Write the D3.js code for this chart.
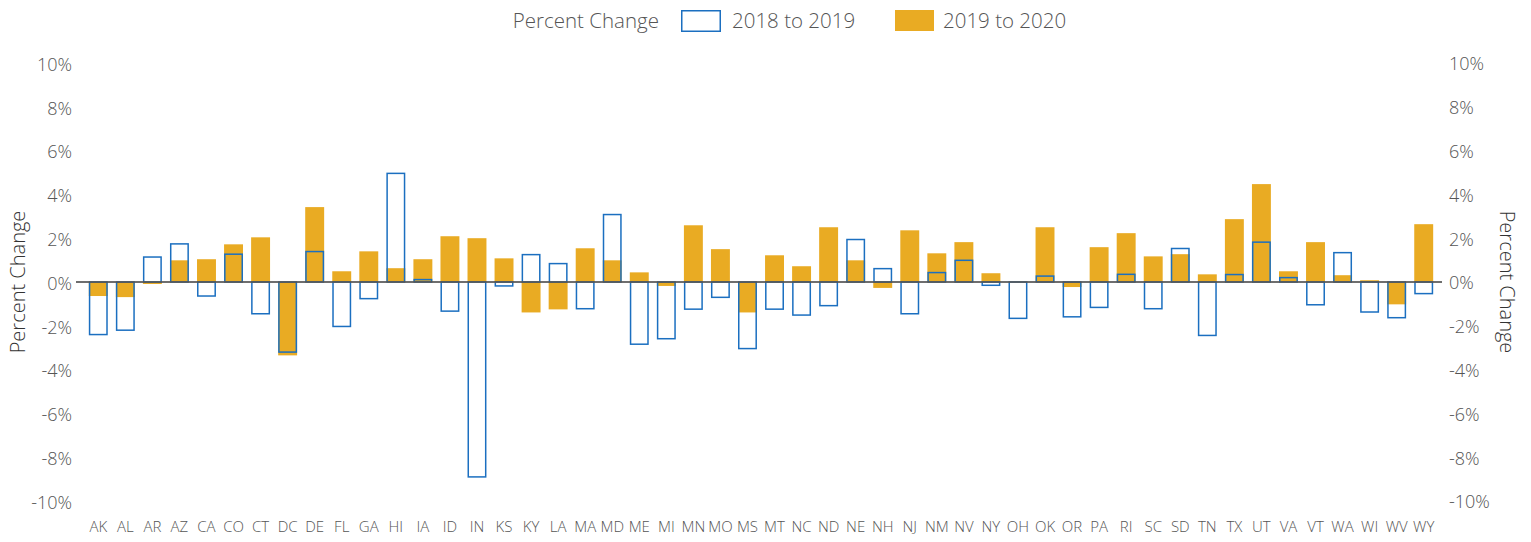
<!DOCTYPE html>
<html>
<head>
<meta charset="utf-8">
<script src="https://cdn.jsdelivr.net/npm/d3@7"></script>
<style>
  body { margin: 0; background: #fff; }
  svg { font-family: "Open Sans", "Noto Sans", sans-serif; font-weight: 300; }
</style>
</head>
<body>
<svg id="chart"></svg>
<script>
// State codes (no IL in source)
const states = ["AK","AL","AR","AZ","CA","CO","CT","DC","DE","FL","GA","HI","IA","ID",
  "IN","KS","KY","LA","MA","MD","ME","MI","MN","MO","MS","MT","NC","ND",
  "NE","NH","NJ","NM","NV","NY","OH","OK","OR","PA","RI","SC","SD","TN",
  "TX","UT","VA","VT","WA","WI","WV","WY"];

// 2018 to 2019 (outline bars), percent
const change2019 = [-2.4,-2.2,1.14,1.74,-0.64,1.27,-1.45,-3.2,1.39,-2.03,-0.76,4.96,0.11,-1.33,
  -8.9,-0.18,1.25,0.84,-1.22,3.08,-2.84,-2.59,-1.24,-0.70,-3.04,-1.24,-1.51,-1.08,
  1.94,0.61,-1.45,0.43,0.99,-0.15,-1.66,0.27,-1.59,-1.16,0.35,-1.22,1.53,-2.44,
  0.34,1.82,0.20,-1.04,1.34,-1.37,-1.63,-0.53];

// 2019 to 2020 (filled bars), percent
const change2020 = [-0.64,-0.69,-0.09,0.99,1.04,1.72,2.04,-3.35,3.42,0.49,1.40,0.63,1.04,2.09,
  2.0,1.08,-1.39,-1.25,1.54,0.99,0.44,-0.18,2.59,1.50,-1.39,1.22,0.72,2.50,
  0.99,-0.27,2.36,1.31,1.82,0.40,0,2.50,-0.23,1.59,2.23,1.17,1.27,0.35,
  2.87,4.47,0.49,1.82,0.31,0.08,-1.02,2.64];

const yTicks = [-10,-8,-6,-4,-2,0,2,4,6,8,10];
const seriesNames = ["2018 to 2019", "2019 to 2020"];

const width = 1531;
const height = 542;
const orange = "#e9ab23";
const blue = "#1b6fc0";

const data = states.map((s, i) => ({ state: s, a: change2019[i], b: change2020[i] }));

const svg = d3.select("#chart")
    .attr("width", width)
    .attr("height", height);

const x = d3.scaleBand()
    .domain(states)
    .range([78, 1444])
    .paddingInner(0.3)
    .paddingOuter(0.4);

const y = d3.scaleLinear()
    .domain([-10, 10])
    .range([501, 63]);

// left axis labels
svg.append("g")
    .selectAll("text")
    .data(yTicks)
    .join("text")
    .attr("x", 72)
    .attr("y", d => y(d) + 1.5)
    .attr("dy", "0.35em")
    .attr("text-anchor", "end")
    .attr("fill", "#555")
    .style("font-size", "18px")
    .text(d => d + "%");

// right axis labels
svg.append("g")
    .selectAll("text")
    .data(yTicks)
    .join("text")
    .attr("x", 1449)
    .attr("y", d => y(d) + 1)
    .attr("dy", "0.35em")
    .attr("text-anchor", "start")
    .attr("fill", "#555")
    .style("font-size", "18px")
    .text(d => d + "%");

// axis titles
svg.append("text")
    .attr("transform", `translate(25,${y(0)}) rotate(-90)`)
    .attr("text-anchor", "middle")
    .attr("fill", "#333")
    .style("font-size", "20px")
    .text("Percent Change");

svg.append("text")
    .attr("transform", `translate(1500,${y(0)}) rotate(90)`)
    .attr("text-anchor", "middle")
    .attr("fill", "#333")
    .style("font-size", "20px")
    .text("Percent Change");

// filled bars (2019 to 2020)
svg.append("g")
    .selectAll("rect")
    .data(data)
    .join("rect")
    .attr("x", d => x(d.state))
    .attr("width", x.bandwidth())
    .attr("y", d => y(Math.max(0, d.b)))
    .attr("height", d => Math.abs(y(d.b) - y(0)))
    .attr("fill", orange);

// outline bars (2018 to 2019)
svg.append("g")
    .selectAll("rect")
    .data(data)
    .join("rect")
    .attr("x", d => x(d.state) + 0.75)
    .attr("width", x.bandwidth() - 1.5)
    .attr("y", d => y(Math.max(0, d.a)))
    .attr("height", d => Math.abs(y(d.a) - y(0)))
    .attr("fill", "none")
    .attr("stroke", blue)
    .attr("stroke-width", 1.5);

// zero line
svg.append("line")
    .attr("x1", 76)
    .attr("x2", 1442)
    .attr("y1", y(0))
    .attr("y2", y(0))
    .attr("stroke", "#555")
    .attr("stroke-opacity", 0.85)
    .attr("stroke-width", 2);

// x labels
svg.append("g")
    .selectAll("text")
    .data(states)
    .join("text")
    .attr("x", d => x(d) + x.bandwidth() / 2)
    .attr("y", 527)
    .attr("dy", "0.35em")
    .attr("text-anchor", "middle")
    .attr("fill", "#555")
    .style("font-size", "15px")
    .text(d => d);

// legend
const legend = svg.append("g");
legend.append("text")
    .attr("x", 659)
    .attr("y", 21)
    .attr("dy", "0.35em")
    .attr("text-anchor", "end")
    .attr("fill", "#555")
    .style("font-size", "20.5px")
    .text("Percent Change");

legend.append("rect")
    .attr("x", 681.75).attr("y", 10.75)
    .attr("width", 38.5).attr("height", 20.5)
    .attr("fill", "none")
    .attr("stroke", blue)
    .attr("stroke-width", 1.5);
legend.append("text")
    .attr("x", 732)
    .attr("y", 21)
    .attr("dy", "0.35em")
    .attr("fill", "#555")
    .style("font-size", "20.5px")
    .text(seriesNames[0]);

legend.append("rect")
    .attr("x", 895).attr("y", 10)
    .attr("width", 39).attr("height", 21)
    .attr("fill", orange);
legend.append("text")
    .attr("x", 943)
    .attr("y", 21)
    .attr("dy", "0.35em")
    .attr("fill", "#555")
    .style("font-size", "20.5px")
    .text(seriesNames[1]);
</script>
</body>
</html>
